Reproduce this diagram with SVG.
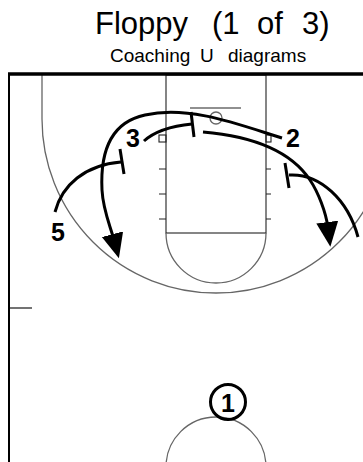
<svg xmlns="http://www.w3.org/2000/svg" width="363" height="462" viewBox="0 0 363 462">
<style>
.court{fill:none;stroke:#222;stroke-width:1.1}
.arc{fill:none;stroke:#666;stroke-width:1.3}
.path{fill:none;stroke:#000;stroke-width:3;stroke-linecap:butt}
.bar{stroke:#000;stroke-width:3}
.num{font-family:"Liberation Sans",Arial,sans-serif;font-weight:bold;font-size:25px;fill:#000;text-anchor:middle}
.title{font-family:"Liberation Sans",Arial,sans-serif;fill:#000}
</style>
<defs>
<marker id="arrow" markerUnits="userSpaceOnUse" markerWidth="30" markerHeight="30" refX="6" refY="11" orient="auto">
<path d="M0,0 L25,11 L0,22 Z" fill="#000"/>
</marker>
</defs>
<rect width="363" height="462" fill="#fff"/>
<g id="title">
<text class="title" font-size="31" y="34"><tspan x="95">Floppy</tspan> <tspan x="212">(1</tspan> <tspan x="257">of</tspan> <tspan x="302">3)</tspan></text>
<text class="title" font-size="19" y="62"><tspan x="110">Coaching</tspan> <tspan x="200">U</tspan> <tspan x="228">diagrams</tspan></text>
</g>
<g id="court">
<path class="arc" d="M42,75 L42,119 A174,174 0 0 0 390,119 L390,75"/>
<rect class="court" x="166" y="75" width="100" height="158"/>
<path class="arc" d="M166,233 A50,50 0 0 0 266,233"/>
<path class="court" d="M159,169 H166 M159,194 H166 M159,219 H166 M266,169 H271 M266,194 H271 M266,219 H271"/>
<rect class="court" x="159" y="135" width="7" height="7"/>
<rect class="court" x="266" y="135" width="5" height="7"/>
<line class="court" x1="190" y1="108" x2="241" y2="108"/>
<circle class="arc" cx="216" cy="118" r="6"/>
<circle class="arc" cx="216" cy="467" r="50"/>
<line x1="9" y1="308" x2="32" y2="308" stroke="#444" stroke-width="1.5"/>
<line x1="8" y1="74" x2="363" y2="74" stroke="#000" stroke-width="3.5"/>
<line x1="9" y1="74" x2="9" y2="462" stroke="#000" stroke-width="2"/>
</g>
<g id="connectors">
<path id="cut-2" class="path" d="M282,138 C240,125 190,105 145,115 C112,122 100,150 102,190 C103,210 110,225 114,240" marker-end="url(#arrow)"/>
<path id="screen-3" class="path" d="M144,141 C155,131 172,126 192,124"/>
<line class="bar" x1="191" y1="112" x2="194" y2="137"/>
<path id="cut-3" class="path" d="M203,132 C250,136 290,150 310,180 C318,192 326,212 328,228" marker-end="url(#arrow)"/>
<path id="screen-5" class="path" d="M55,212 C62,185 85,165 121,162"/>
<line class="bar" x1="120" y1="149" x2="124" y2="174"/>
<path id="screen-4" class="path" d="M289,175 C320,173 348,200 358,237"/>
<line class="bar" x1="285" y1="163" x2="289" y2="188"/>
</g>
<g id="player-3"><text class="num" x="133" y="147">3</text></g>
<g id="player-2"><text class="num" x="293" y="147">2</text></g>
<g id="player-5"><text class="num" x="58" y="241">5</text></g>
<g id="player-1">
<circle cx="228" cy="402" r="17.5" fill="none" stroke="#000" stroke-width="3"/>
<text class="num" x="228" y="412">1</text>
</g>
</svg>
